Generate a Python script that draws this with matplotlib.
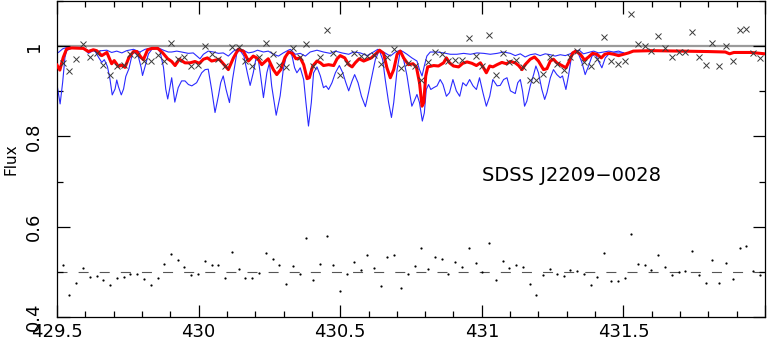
"""Observed spectrum of SDSS J2209-0028 with model fits and residuals."""

import numpy as np
import matplotlib
matplotlib.use("Agg")
import matplotlib.pyplot as plt
from matplotlib.ticker import MultipleLocator

# observed pixels (crosses) and residuals (dots, offset to 0.5)
obs_wave = [
    429.520, 429.544, 429.568, 429.592, 429.616, 429.640, 429.663, 429.687, 429.711, 429.735,
    429.759, 429.783, 429.807, 429.831, 429.855, 429.879, 429.902, 429.926, 429.950, 429.974,
    429.998, 430.022, 430.046, 430.070, 430.094, 430.118, 430.141, 430.165, 430.189, 430.213,
    430.237, 430.261, 430.285, 430.309, 430.333, 430.357, 430.380, 430.404, 430.428, 430.452,
    430.476, 430.500, 430.524, 430.548, 430.572, 430.596, 430.619, 430.643, 430.667, 430.691,
    430.715, 430.739, 430.763, 430.787, 430.811, 430.835, 430.858, 430.882, 430.906, 430.930,
    430.954, 430.978, 431.002, 431.026, 431.050, 431.074, 431.097, 431.121, 431.145, 431.169,
    431.193, 431.217, 431.241, 431.265, 431.289, 431.313, 431.336, 431.360, 431.384, 431.408,
    431.432, 431.456, 431.480, 431.504, 431.528, 431.552, 431.575, 431.599, 431.623, 431.647,
    431.671, 431.695, 431.719, 431.743, 431.767, 431.791, 431.814, 431.838, 431.862, 431.886,
    431.910, 431.934, 431.958, 431.982,
]
obs_flux = [
    0.963, 0.944, 0.972, 1.005, 0.977, 0.984, 0.958, 0.935, 0.957, 0.958,
    0.983, 0.981, 0.966, 0.966, 0.981, 0.968, 1.008, 0.972, 0.975, 0.955,
    0.958, 1.001, 0.983, 0.972, 0.955, 0.999, 0.999, 0.968, 0.955, 0.975,
    1.008, 0.983, 0.958, 0.953, 0.995, 0.975, 1.005, 0.955, 0.977, 1.036,
    0.985, 0.936, 0.962, 0.985, 0.979, 0.979, 0.981, 0.961, 0.975, 0.994,
    0.952, 0.962, 0.955, 0.924, 0.964, 0.988, 0.983, 0.966, 0.970, 0.970,
    1.018, 0.979, 0.957, 1.025, 0.937, 0.985, 0.964, 0.970, 0.953, 0.926,
    0.924, 0.939, 0.977, 0.961, 0.947, 0.977, 0.989, 0.964, 0.957, 0.972,
    1.021, 0.966, 0.961, 0.966, 1.071, 1.005, 1.001, 0.990, 1.023, 0.995,
    0.977, 0.986, 0.988, 1.031, 0.977, 0.959, 1.008, 0.957, 1.001, 0.966,
    1.036, 1.039, 0.984, 0.974,
]
resid = [
    0.515, 0.448, 0.476, 0.509, 0.489, 0.491, 0.482, 0.470, 0.487, 0.488,
    0.495, 0.495, 0.484, 0.470, 0.487, 0.518, 0.539, 0.526, 0.510, 0.494,
    0.496, 0.523, 0.516, 0.516, 0.487, 0.543, 0.506, 0.487, 0.487, 0.498,
    0.542, 0.528, 0.515, 0.473, 0.514, 0.496, 0.574, 0.482, 0.518, 0.579,
    0.515, 0.458, 0.496, 0.521, 0.504, 0.537, 0.509, 0.468, 0.532, 0.538,
    0.465, 0.495, 0.514, 0.552, 0.507, 0.532, 0.528, 0.495, 0.522, 0.510,
    0.552, 0.520, 0.499, 0.564, 0.483, 0.524, 0.509, 0.515, 0.511, 0.473,
    0.448, 0.493, 0.507, 0.496, 0.490, 0.505, 0.501, 0.496, 0.471, 0.489,
    0.541, 0.480, 0.479, 0.487, 0.583, 0.518, 0.515, 0.504, 0.538, 0.510,
    0.493, 0.500, 0.502, 0.546, 0.494, 0.476, 0.526, 0.476, 0.520, 0.485,
    0.552, 0.557, 0.502, 0.494,
]

# best-fit model (red)
fit_wave = [
    429.500, 429.510, 429.522, 429.534, 429.552, 429.593, 429.611, 429.628, 429.640, 429.658,
    429.676, 429.693, 429.702, 429.717, 429.729, 429.740, 429.754, 429.770, 429.782, 429.797,
    429.805, 429.820, 429.835, 429.856, 429.872, 429.891, 429.905, 429.917, 429.932, 429.952,
    429.970, 429.987, 430.003, 430.017, 430.031, 430.046, 430.060, 430.073, 430.090, 430.105,
    430.123, 430.140, 430.158, 430.176, 430.193, 430.208, 430.223, 430.235, 430.246, 430.264,
    430.276, 430.290, 430.305, 430.318, 430.331, 430.344, 430.359, 430.371, 430.383, 430.391,
    430.403, 430.418, 430.430, 430.441, 430.459, 430.477, 430.489, 430.500, 430.516, 430.530,
    430.542, 430.553, 430.567, 430.583, 430.595, 430.610, 430.624, 430.639, 430.653, 430.665,
    430.677, 430.689, 430.701, 430.712, 430.724, 430.741, 430.757, 430.769, 430.780, 430.789,
    430.795, 430.802, 430.809, 430.830, 430.847, 430.865, 430.875, 430.886, 430.900, 430.918,
    430.933, 430.948, 430.965, 430.981, 430.995, 431.006, 431.016, 431.028, 431.039, 431.054,
    431.071, 431.087, 431.101, 431.118, 431.130, 431.142, 431.153, 431.171, 431.186, 431.200,
    431.218, 431.230, 431.242, 431.253, 431.265, 431.283, 431.297, 431.309, 431.321, 431.332,
    431.348, 431.363, 431.377, 431.391, 431.406, 431.422, 431.434, 431.448, 431.466, 431.483,
    431.501, 431.518, 431.535, 431.600, 431.700, 431.800, 431.860, 431.875, 431.890, 431.950,
    432.000,
]
fit_flux = [
    0.958, 0.947, 0.975, 0.994, 0.996, 0.995, 0.988, 0.992, 0.990, 0.979,
    0.986, 0.961, 0.968, 0.955, 0.958, 0.953, 0.975, 0.988, 0.988, 0.975,
    0.970, 0.992, 0.995, 0.995, 0.986, 0.972, 0.966, 0.957, 0.971, 0.963,
    0.963, 0.966, 0.962, 0.971, 0.974, 0.967, 0.969, 0.971, 0.959, 0.948,
    0.974, 0.993, 0.989, 0.967, 0.978, 0.973, 0.959, 0.966, 0.972, 0.948,
    0.937, 0.948, 0.975, 0.987, 0.984, 0.972, 0.974, 0.959, 0.928, 0.930,
    0.956, 0.967, 0.963, 0.957, 0.959, 0.957, 0.972, 0.979, 0.974, 0.959,
    0.954, 0.963, 0.972, 0.967, 0.970, 0.974, 0.982, 0.991, 0.984, 0.952,
    0.930, 0.948, 0.982, 0.989, 0.974, 0.959, 0.961, 0.954, 0.919, 0.867,
    0.875, 0.934, 0.954, 0.957, 0.956, 0.963, 0.974, 0.963, 0.956, 0.954,
    0.962, 0.965, 0.962, 0.957, 0.963, 0.952, 0.941, 0.956, 0.954, 0.959,
    0.964, 0.961, 0.966, 0.963, 0.957, 0.948, 0.959, 0.971, 0.976, 0.967,
    0.948, 0.950, 0.967, 0.971, 0.963, 0.957, 0.952, 0.967, 0.985, 0.989,
    0.982, 0.969, 0.976, 0.984, 0.982, 0.974, 0.982, 0.984, 0.982, 0.979,
    0.982, 0.985, 0.989, 0.990, 0.989, 0.988, 0.987, 0.983, 0.986, 0.986,
    0.983,
]

# bracketing models (blue): weaker and stronger lines
hi_wave = [
    429.500, 429.505, 429.520, 429.534, 429.590, 429.611, 429.623, 429.640, 429.658, 429.676,
    429.693, 429.711, 429.729, 429.746, 429.770, 429.793, 429.811, 429.835, 429.858, 429.876,
    429.893, 429.905, 429.923, 429.940, 429.964, 429.981, 430.005, 430.017, 430.034, 430.052,
    430.070, 430.087, 430.105, 430.123, 430.140, 430.158, 430.176, 430.193, 430.208, 430.229,
    430.246, 430.264, 430.282, 430.299, 430.317, 430.324, 430.341, 430.359, 430.377, 430.394,
    430.418, 430.441, 430.465, 430.483, 430.506, 430.530, 430.547, 430.571, 430.595, 430.612,
    430.633, 430.653, 430.677, 430.695, 430.712, 430.724, 430.736, 430.753, 430.771, 430.780,
    430.789, 430.797, 430.806, 430.818, 430.842, 430.865, 430.889, 430.912, 430.936, 430.960,
    430.983, 431.007, 431.030, 431.054, 431.077, 431.101, 431.118, 431.136, 431.153, 431.171,
    431.189, 431.206, 431.224, 431.242, 431.259, 431.277, 431.295, 431.312, 431.328, 431.344,
    431.359, 431.377, 431.395, 431.412, 431.430, 431.448, 431.465, 431.483, 431.501,
]
hi_flux = [
    0.985, 0.986, 0.994, 0.997, 0.997, 0.990, 0.992, 0.988, 0.990, 0.991,
    0.986, 0.989, 0.985, 0.990, 0.993, 0.987, 0.993, 0.996, 0.996, 0.991,
    0.987, 0.987, 0.989, 0.987, 0.984, 0.985, 0.972, 0.982, 0.989, 0.987,
    0.984, 0.985, 0.978, 0.989, 0.994, 0.991, 0.985, 0.987, 0.991, 0.987,
    0.989, 0.982, 0.978, 0.985, 0.991, 0.993, 0.982, 0.984, 0.978, 0.987,
    0.991, 0.987, 0.984, 0.989, 0.985, 0.982, 0.987, 0.985, 0.979, 0.985,
    0.993, 0.987, 0.978, 0.987, 0.991, 0.987, 0.982, 0.974, 0.967, 0.948,
    0.934, 0.956, 0.978, 0.987, 0.987, 0.985, 0.982, 0.982, 0.984, 0.982,
    0.985, 0.984, 0.982, 0.984, 0.987, 0.984, 0.979, 0.983, 0.976, 0.981,
    0.983, 0.979, 0.983, 0.981, 0.978, 0.981, 0.979, 0.983, 0.989, 0.991,
    0.983, 0.986, 0.989, 0.985, 0.987, 0.989, 0.987, 0.989, 0.985,
]
lo_wave = [
    429.500, 429.511, 429.520, 429.528, 429.534, 429.552, 429.593, 429.611, 429.628, 429.635,
    429.647, 429.658, 429.667, 429.678, 429.687, 429.695, 429.705, 429.711, 429.717, 429.727,
    429.735, 429.743, 429.754, 429.766, 429.778, 429.788, 429.797, 429.802, 429.811, 429.823,
    429.835, 429.852, 429.864, 429.876, 429.884, 429.891, 429.899, 429.905, 429.916, 429.928,
    429.940, 429.952, 429.964, 429.976, 429.993, 430.011, 430.023, 430.034, 430.046, 430.058,
    430.070, 430.078, 430.087, 430.097, 430.109, 430.120, 430.135, 430.146, 430.160, 430.172,
    430.182, 430.193, 430.203, 430.211, 430.219, 430.229, 430.241, 430.250, 430.258, 430.274,
    430.288, 430.299, 430.311, 430.323, 430.330, 430.339, 430.347, 430.359, 430.371, 430.379,
    430.388, 430.398, 430.406, 430.418, 430.430, 430.441, 430.450, 430.459, 430.471, 430.483,
    430.497, 430.509, 430.520, 430.530, 430.542, 430.551, 430.563, 430.575, 430.589, 430.600,
    430.612, 430.624, 430.638, 430.650, 430.659, 430.671, 430.681, 430.689, 430.701, 430.712,
    430.724, 430.736, 430.745, 430.753, 430.761, 430.771, 430.780, 430.790, 430.797, 430.804,
    430.812, 430.820, 430.830, 430.842, 430.853, 430.863, 430.875, 430.886, 430.898, 430.910,
    430.922, 430.933, 430.945, 430.957, 430.969, 430.981, 430.992, 431.004, 431.016, 431.028,
    431.039, 431.054, 431.065, 431.077, 431.089, 431.101, 431.118, 431.127, 431.136, 431.144,
    431.151, 431.159, 431.171, 431.183, 431.191, 431.200, 431.212, 431.222, 431.230, 431.242,
    431.253, 431.265, 431.277, 431.285, 431.297, 431.306, 431.316, 431.328, 431.342, 431.354,
    431.365, 431.377, 431.389, 431.401, 431.412, 431.424, 431.436, 431.448, 431.466, 431.483,
    431.501,
]
lo_flux = [
    0.915, 0.872, 0.920, 0.975, 0.990, 0.996, 0.996, 0.984, 0.990, 0.988,
    0.975, 0.964, 0.970, 0.955, 0.927, 0.892, 0.905, 0.925, 0.910, 0.892,
    0.905, 0.933, 0.950, 0.983, 0.987, 0.975, 0.953, 0.935, 0.955, 0.983,
    0.993, 0.995, 0.988, 0.953, 0.905, 0.883, 0.910, 0.930, 0.876, 0.908,
    0.923, 0.923, 0.915, 0.912, 0.919, 0.941, 0.948, 0.949, 0.904, 0.853,
    0.890, 0.919, 0.934, 0.904, 0.875, 0.927, 0.985, 0.991, 0.978, 0.941,
    0.913, 0.941, 0.974, 0.970, 0.934, 0.886, 0.941, 0.963, 0.912, 0.847,
    0.890, 0.948, 0.982, 0.989, 0.978, 0.952, 0.941, 0.952, 0.926, 0.875,
    0.823, 0.875, 0.941, 0.954, 0.934, 0.908, 0.912, 0.904, 0.919, 0.941,
    0.957, 0.941, 0.919, 0.901, 0.923, 0.937, 0.919, 0.889, 0.866, 0.897,
    0.934, 0.970, 0.991, 0.970, 0.926, 0.875, 0.842, 0.875, 0.948, 0.989,
    0.970, 0.934, 0.897, 0.867, 0.878, 0.893, 0.875, 0.834, 0.852, 0.904,
    0.915, 0.904, 0.908, 0.912, 0.926, 0.915, 0.889, 0.897, 0.926, 0.901,
    0.889, 0.919, 0.912, 0.926, 0.912, 0.904, 0.930, 0.897, 0.867, 0.889,
    0.926, 0.912, 0.913, 0.926, 0.930, 0.901, 0.895, 0.919, 0.926, 0.900,
    0.867, 0.878, 0.912, 0.937, 0.956, 0.941, 0.904, 0.882, 0.897, 0.930,
    0.948, 0.937, 0.930, 0.934, 0.904, 0.934, 0.974, 0.989, 0.982, 0.963,
    0.937, 0.956, 0.978, 0.982, 0.967, 0.952, 0.974, 0.982, 0.985, 0.985,
    0.985,
]

x_ticks = [429.5, 430.0, 430.5, 431.0, 431.5, 432.0]
x_labels = ["429.5", "430", "430.5", "431", "431.5", ""]
y_ticks = [0.4, 0.6, 0.8, 1.0]
y_labels = ["0.4", "0.6", "0.8", "1"]
star_name = "SDSS J2209\u22120028"


def make_plot():
    fig = plt.figure(figsize=(7.68, 3.42), dpi=100)
    ax = fig.add_axes([57 / 768, 25 / 342, 708 / 768, 316 / 342])

    ax.axhline(1.0, color="#9a9a9a", lw=1.6, zorder=1)
    ax.axhline(0.5, color="#555555", lw=0.8, ls=(0, (9, 10)), zorder=1)

    ax.plot(hi_wave, hi_flux, color="#2a2aff", lw=0.8, zorder=2)
    ax.plot(lo_wave, lo_flux, color="#2a2aff", lw=0.8, zorder=2)
    ax.plot(fit_wave, fit_flux, color="#ff0000", lw=2.2, zorder=3)

    ax.plot(obs_wave, obs_flux, ls="none", marker="x", ms=3.8, mew=0.7,
            color="#3a3a3a", zorder=4)
    ax.plot(obs_wave, resid, ls="none", marker="o", ms=1.6, mew=0,
            color="black", zorder=4)

    ax.text(431.0, 0.714, star_name, fontsize=14, va="center", ha="left")

    ax.set_xlim(429.5, 432.0)
    ax.set_ylim(0.4, 1.1)
    ax.set_xticks(x_ticks)
    ax.set_xticklabels(x_labels, fontsize=13)
    ax.set_yticks(y_ticks)
    ax.set_yticklabels(y_labels, fontsize=13, rotation=90, va="center")
    ax.xaxis.set_minor_locator(MultipleLocator(0.1))
    ax.yaxis.set_minor_locator(MultipleLocator(0.1))
    ax.tick_params(which="both", direction="in", top=True, right=True, width=0.9)
    ax.tick_params(which="major", length=9)
    ax.tick_params(which="minor", length=4.5)
    ax.tick_params(axis="x", pad=4)
    ax.tick_params(axis="y", pad=10)
    for s in ax.spines.values():
        s.set_linewidth(0.9)

    ax.set_ylabel("Flux", fontsize=11, labelpad=5)

    fig.savefig("out.png", dpi=100)
    plt.close(fig)


if __name__ == "__main__":
    make_plot()
